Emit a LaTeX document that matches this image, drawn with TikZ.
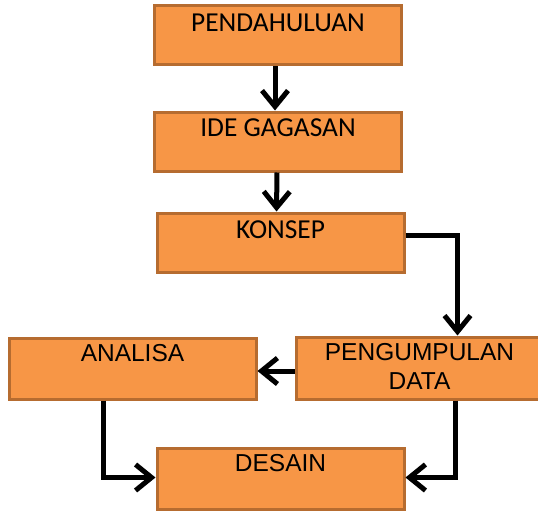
\documentclass[tikz,border=0pt]{standalone}
\usepackage{fontspec}
\newfontfamily\topfont{Carlito}
\newfontfamily\lowfont{Liberation Sans}
\usetikzlibrary{positioning, calc, arrows.meta}
\definecolor{boxfill}{HTML}{F79646}
\definecolor{boxline}{RGB}{182,108,48}
\tikzset{
    stepbox/.style={draw=boxline, fill=boxfill, line width=3pt, minimum width=247pt, minimum height=59pt, inner sep=0pt},
    toptxt/.style={anchor=base, inner sep=0pt, font=\topfont\fontsize{27.4}{29}\selectfont},
    lowtxt/.style={anchor=base, inner sep=0pt, align=center, font=\lowfont\fontsize{24.5}{29}\selectfont},
    flow/.style={line width=5pt, -{Straight Barb[length=16pt, width=26pt]}}
}

\begin{document}
\begin{tikzpicture}[x=1pt, y=-1pt]
    \useasboundingbox (0,0) rectangle (538,511);

    % --- Upper column ---
    \node[stepbox] (pend) at (278,35.5) {};
    \node[toptxt] at ([yshift=-27pt]pend.north) {PENDAHULUAN};
    \node[stepbox] (ide) at (278,141.5) {};
    \node[toptxt] at ([yshift=-26pt]ide.north) {IDE GAGASAN};
    \node[stepbox] (konsep) at (280.5,242.5) {};
    \node[toptxt] at ([yshift=-27pt]konsep.north) {KONSEP};

    % --- Lower row ---
    \node[stepbox, minimum height=61pt] (analisa) at (132.5,368.5) {};
    \node[lowtxt] at ([yshift=-25pt]analisa.north) {ANALISA};
    \node[stepbox, minimum height=62pt] (peng) at (419.5,368) {};
    \node[lowtxt] at ([yshift=-54pt]peng.north) {PENGUMPULAN\\DATA};
    \node[stepbox, minimum height=61pt] (desain) at (280.5,478.5) {};
    \node[lowtxt] at ([yshift=-25pt]desain.north) {DESAIN};

    % --- Arrows ---
    \draw[flow] ([xshift=-3pt]pend.south) -- ([xshift=-3pt]ide.north);
    \draw[flow] ([xshift=-1pt]ide.south) -- ([xshift=-4pt]konsep.north);
    \draw[flow] ([yshift=7pt]konsep.east) -| ([xshift=38pt]peng.north);
    \draw[flow] (peng.west |- 0,371) -- (analisa.east |- 0,371);
    \draw[flow] ([xshift=-29pt]analisa.south) |- ([yshift=1pt]desain.west);
    \draw[flow] ([xshift=36pt]peng.south) |- ([yshift=1pt]desain.east);

\end{tikzpicture}
\end{document}
